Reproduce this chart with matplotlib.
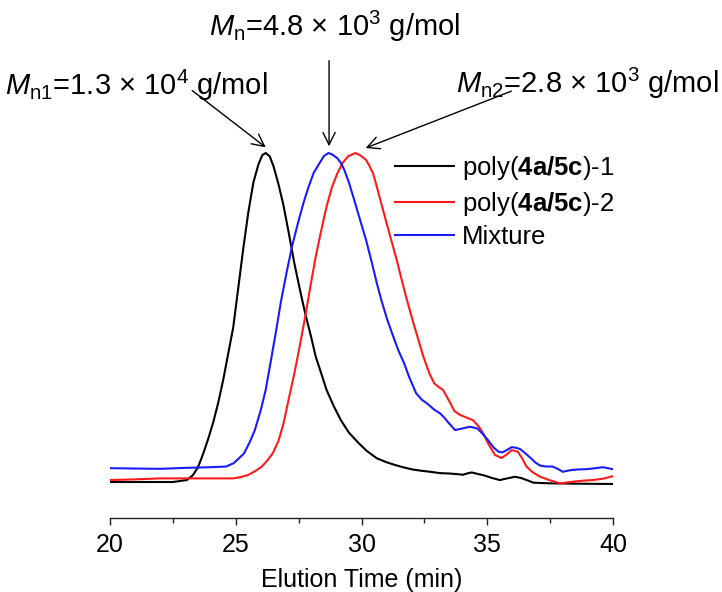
import matplotlib
matplotlib.use("Agg")
import matplotlib.pyplot as plt
from matplotlib.ticker import MultipleLocator

plt.rcParams['font.family'] = ['Liberation Sans', 'DejaVu Sans']
plt.rcParams['mathtext.fontset'] = 'custom'
plt.rcParams['mathtext.rm'] = 'Liberation Sans'
plt.rcParams['mathtext.it'] = 'Liberation Sans:italic'
plt.rcParams['mathtext.bf'] = 'Liberation Sans:bold'

# ---- data (elution time in min, normalized detector response) ----
black_x = [20.0, 21.0, 22.0, 22.5, 23.06, 23.3, 23.5, 23.7, 23.9, 24.1, 24.3, 24.5, 24.7,
           24.9, 25.1, 25.3, 25.5, 25.7, 25.9, 26.05, 26.19, 26.35, 26.5, 26.7, 26.9,
           27.1, 27.33, 27.55, 27.76, 28.0, 28.18, 28.4, 28.61, 28.9, 29.18, 29.5,
           29.89, 30.2, 30.61, 31.0, 31.32, 31.7, 32.03, 32.4, 32.74, 33.12, 33.46,
           33.8, 34.03, 34.2, 34.38, 34.6, 34.88, 35.2, 35.5, 35.8, 36.1, 36.35, 36.6,
           36.83, 37.45, 38.5, 40.0]
black_y = [0.0, 0.0, 0.0, 0.0, 0.006, 0.021, 0.045, 0.085, 0.13, 0.18, 0.24, 0.31, 0.39,
           0.47, 0.59, 0.71, 0.82, 0.91, 0.965, 0.993, 1.0, 0.99, 0.96, 0.905, 0.84,
           0.76, 0.665, 0.585, 0.513, 0.44, 0.381, 0.33, 0.28, 0.23, 0.188, 0.15,
           0.118, 0.095, 0.072, 0.06, 0.052, 0.044, 0.038, 0.034, 0.031, 0.027, 0.026,
           0.024, 0.022, 0.026, 0.029, 0.025, 0.02, 0.012, 0.006, 0.011, 0.016, 0.012, 0.005,
           -0.002, -0.004, -0.005, -0.006]

red_x = [20.0, 21.0, 22.0, 23.0, 24.0, 24.9, 25.2, 25.48, 25.75, 26.04, 26.25, 26.47, 26.7,
         26.9, 27.1, 27.33, 27.55, 27.76, 27.97, 28.18, 28.4, 28.61, 28.82, 29.04, 29.25,
         29.47, 29.75, 29.95, 30.18, 30.32, 30.46, 30.6, 30.75, 30.95, 31.18, 31.4,
         31.6, 31.8, 32.03, 32.25, 32.46, 32.7, 32.89, 33.05, 33.24, 33.46, 33.7,
         33.92, 34.2, 34.43, 34.65, 34.83, 35.05, 35.31, 35.57, 35.8, 35.97, 36.22,
         36.4, 36.56, 36.8, 37.1, 37.5, 37.9, 38.41, 38.8, 39.2, 39.6, 40.0]
red_y = [0.006, 0.008, 0.011, 0.011, 0.011, 0.011, 0.015, 0.021, 0.032, 0.047, 0.065, 0.087,
         0.125, 0.178, 0.25, 0.33, 0.415, 0.502, 0.595, 0.685, 0.765, 0.837, 0.895, 0.938,
         0.97, 0.99, 1.0, 0.993, 0.979, 0.96, 0.938, 0.9, 0.857, 0.8, 0.736, 0.675,
         0.614, 0.555, 0.492, 0.435, 0.381, 0.33, 0.3, 0.29, 0.28, 0.25, 0.215,
         0.204, 0.195, 0.188, 0.17, 0.149, 0.115, 0.082, 0.073, 0.085, 0.097, 0.092,
         0.07, 0.047, 0.03, 0.016, 0.005, -0.004, 0.001, 0.004, 0.006, 0.01, 0.018]

blue_x = [20.0, 21.0, 22.0, 23.0, 24.0, 24.62, 24.91, 25.1, 25.33, 25.55, 25.76, 26.0,
          26.19, 26.4, 26.61, 26.8, 27.04, 27.25, 27.47, 27.7, 27.9, 28.1, 28.33, 28.5,
          28.68, 28.85, 29.04, 29.18, 29.32, 29.5, 29.75, 29.95, 30.18, 30.4, 30.61,
          30.8, 31.03, 31.25, 31.46, 31.7, 31.89, 32.17, 32.4, 32.6, 32.89, 33.12,
          33.3, 33.46, 33.72, 34.03, 34.31, 34.6, 34.8, 35.02, 35.25, 35.45, 35.6,
          35.8, 35.97, 36.15, 36.31, 36.5, 36.74, 36.9, 37.1, 37.35, 37.6, 37.8, 38.0,
          38.3, 38.6, 38.95, 39.3, 39.6, 40.0]
blue_y = [0.042, 0.041, 0.04, 0.043, 0.045, 0.047, 0.057, 0.07, 0.087, 0.12, 0.158, 0.22,
          0.28, 0.37, 0.462, 0.55, 0.644, 0.72, 0.786, 0.85, 0.898, 0.94, 0.969, 0.99,
          1.0, 0.995, 0.984, 0.97, 0.948, 0.91, 0.847, 0.795, 0.736, 0.67, 0.604,
          0.55, 0.492, 0.445, 0.401, 0.36, 0.32, 0.27, 0.25, 0.239, 0.22, 0.209,
          0.195, 0.18, 0.158, 0.163, 0.168, 0.163, 0.148, 0.128, 0.105, 0.092, 0.09,
          0.098, 0.106, 0.104, 0.1, 0.088, 0.072, 0.06, 0.05, 0.047, 0.047, 0.04, 0.031,
          0.036, 0.038, 0.039, 0.042, 0.045, 0.039]

labels = [r'poly($\mathbf{4a/5c}$)-1', r'poly($\mathbf{4a/5c}$)-2', 'Mixture']
colors = ['black', '#ff1a1a', '#1a1aff']
xticks = [20, 25, 30, 35, 40]

fig = plt.figure(figsize=(7.22, 5.92), dpi=100)
ax = fig.add_axes([110/722, 74/592, 503/722, 378/592])

ax.plot(black_x, black_y, color=colors[0], lw=1.5, label=labels[0])
ax.plot(red_x, red_y, color=colors[1], lw=1.5, label=labels[1])
ax.plot(blue_x, blue_y, color=colors[2], lw=1.5, label=labels[2])

ax.set_xlim(20, 40)
ax.set_ylim(-0.1094, 1.0395)
ax.set_xticks(xticks)
ax.xaxis.set_minor_locator(MultipleLocator(2.5))
ax.set_yticks([])
for s in ['top', 'right', 'left']:
    ax.spines[s].set_visible(False)
ax.spines['bottom'].set_color('#222222')
ax.spines['bottom'].set_linewidth(1.0)
ax.tick_params(axis='x', which='major', length=5, width=1.0, direction='out',
               labelsize=18, pad=6, color='#222222')
ax.tick_params(axis='x', which='minor', length=3.5, width=1.0, direction='out',
               color='#222222')
ax.set_xlabel('Elution Time (min)', fontsize=18, labelpad=8)

leg = ax.legend(loc='upper left', bbox_to_anchor=(395/722, 1 - 154/592),
                bbox_transform=fig.transFigure, frameon=False, fontsize=18.5,
                handlelength=2.3, handletextpad=0.3, labelspacing=0.3,
                borderpad=0, borderaxespad=0)

arrow = dict(arrowstyle='->', lw=1.0, color='black', mutation_scale=22)
ax.annotate('', xy=(26.28, 1.012), xytext=(23.18, 1.195), arrowprops=arrow,
            annotation_clip=False)
ax.annotate('', xy=(28.71, 1.012), xytext=(28.71, 1.289), arrowprops=arrow,
            annotation_clip=False)
ax.annotate('', xy=(30.06, 1.012), xytext=(36.06, 1.191), arrowprops=arrow,
            annotation_clip=False)

fig.text(335/722, 1 - 36/592, r'$\mathit{M}_\mathrm{n}$=4.8 × 10$^\mathrm{3}$ g/mol',
         fontsize=21, ha='center', va='baseline')
fig.text(5/722, 1 - 95/592, r'$\mathit{M}_\mathrm{n1}$=1.3 × 10$^\mathrm{4}$ g/mol',
         fontsize=21, ha='left', va='baseline')
fig.text(719/722, 1 - 93/592, r'$\mathit{M}_\mathrm{n2}$=2.8 × 10$^\mathrm{3}$ g/mol',
         fontsize=21, ha='right', va='baseline')

fig.savefig('out.png', dpi=100)
